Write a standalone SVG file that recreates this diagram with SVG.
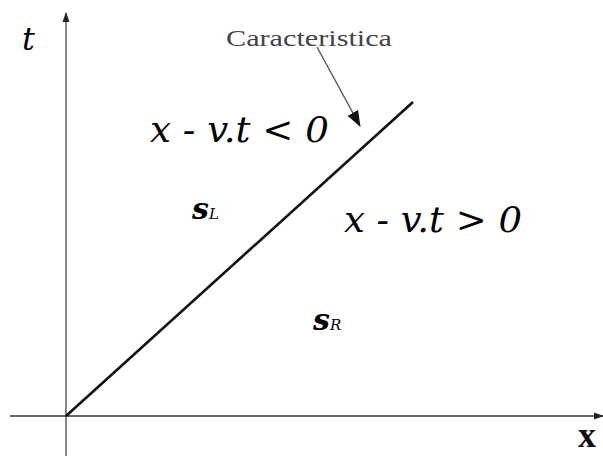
<svg xmlns="http://www.w3.org/2000/svg" width="603" height="456" viewBox="0 0 603 456">
<style>
.math{font-family:"DejaVu Serif","Liberation Serif",serif;font-style:italic;fill:#000}
.lab{font-family:"Liberation Serif","DejaVu Serif",serif;fill:#444}
.axis{stroke:#6a6a6a;stroke-width:1.6;fill:none}
</style>
<defs>
<marker id="ah" markerWidth="10" markerHeight="10" refX="9" refY="5" orient="auto" markerUnits="userSpaceOnUse" viewBox="0 0 10 10">
<path d="M0,1.5 L10,5 L0,8.5 Z" fill="#222"/>
</marker>
<marker id="ab" markerWidth="16" markerHeight="14" refX="15" refY="7" orient="auto" markerUnits="userSpaceOnUse" viewBox="0 0 16 14">
<path d="M0,1 L16,7 L0,13 Z" fill="#111"/>
</marker>
</defs>
<rect width="603" height="456" fill="#fff"/>
<g id="connectors">
<line class="axis" x1="66" y1="456" x2="66" y2="13" marker-end="url(#ah)"/>
<line x1="10" y1="416" x2="603" y2="416" stroke="#333" stroke-width="1.6" marker-end="url(#ah)"/>
<line x1="66" y1="416" x2="413" y2="102" stroke="#111" stroke-width="2.6"/>
<line x1="317" y1="47" x2="360" y2="126" stroke="#555" stroke-width="1.4" marker-end="url(#ab)"/>
</g>
<g id="label-t"><text class="math" x="22" y="50" font-size="32">t</text></g>
<g id="label-x"><text x="578" y="447" font-family="Liberation Serif,serif" font-weight="bold" font-size="36" fill="#111">x</text></g>
<g id="label-caracteristica"><text class="lab" x="226" y="46" font-size="24" textLength="166" lengthAdjust="spacingAndGlyphs">Caracteristica</text></g>
<g id="label-less"><text class="math" x="150" y="142" font-size="35" textLength="179" lengthAdjust="spacingAndGlyphs">x - v.t &lt; 0</text></g>
<g id="label-greater"><text class="math" x="344" y="232" font-size="35" textLength="178" lengthAdjust="spacingAndGlyphs">x - v.t &gt; 0</text></g>
<g id="label-sL"><text class="math" x="192" y="219" font-size="30" font-weight="bold">s<tspan font-size="15" font-weight="normal">L</tspan></text></g>
<g id="label-sR"><text class="math" x="313" y="330" font-size="30" font-weight="bold">s<tspan font-size="15" font-weight="normal">R</tspan></text></g>
</svg>
